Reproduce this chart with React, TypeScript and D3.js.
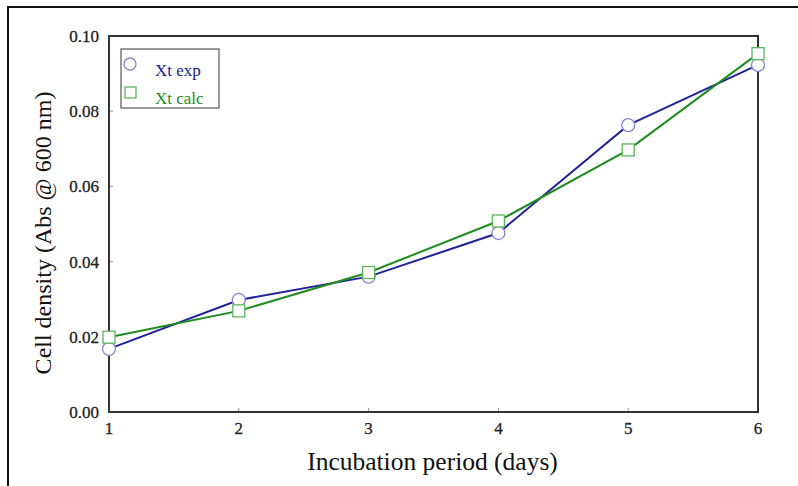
import React, { useEffect, useRef } from 'react';
import * as d3 from 'd3';

const days = [1, 2, 3, 4, 5, 6];
const xtExp = [0.0168, 0.0298, 0.0360, 0.0476, 0.0763, 0.0923];
const xtCalc = [0.0199, 0.0269, 0.0371, 0.0508, 0.0697, 0.0953];
const yTicks = [0, 0.02, 0.04, 0.06, 0.08, 0.1];

const App = () => {
  const ref = useRef<SVGSVGElement | null>(null);

  useEffect(() => {
    if (!ref.current) return;
    const svg = d3.select(ref.current);
    svg.selectAll('*').remove();

    const W = 798, H = 486;
    const left = 109, right = 758, top = 36, bottom = 412;
    const font = '"Liberation Serif", "Times New Roman", serif';

    const x = d3.scaleLinear().domain([1, 6]).range([left, right]);
    const y = d3.scaleLinear().domain([0, 0.1]).range([bottom, top]);

    svg.append('rect').attr('width', W).attr('height', H).attr('fill', '#fff');

    // outer frame
    svg.append('rect')
      .attr('x', 8).attr('y', 7).attr('width', 820).attr('height', 520)
      .attr('fill', 'none').attr('stroke', '#111').attr('stroke-width', 2);

    // inner ticks
    const g = svg.append('g');
    g.selectAll('.xt').data(days.slice(1, -1)).enter().append('line')
      .attr('x1', d => x(d)).attr('x2', d => x(d))
      .attr('y1', bottom).attr('y2', bottom - 4)
      .attr('stroke', '#999').attr('stroke-width', 1);
    g.selectAll('.yt').data(yTicks.slice(1, -1)).enter().append('line')
      .attr('x1', left).attr('x2', left + 4)
      .attr('y1', d => y(d)).attr('y2', d => y(d))
      .attr('stroke', '#999').attr('stroke-width', 1);

    // plot border
    svg.append('rect')
      .attr('x', left).attr('y', top).attr('width', right - left).attr('height', bottom - top)
      .attr('fill', 'none').attr('stroke', '#333').attr('stroke-width', 2);

    // tick labels
    svg.selectAll('.xl').data(days).enter().append('text')
      .attr('x', d => x(d)).attr('y', bottom + 22)
      .attr('text-anchor', 'middle')
      .attr('font-family', font).attr('font-size', 17)
      .attr('fill', '#222').attr('stroke', '#222').attr('stroke-width', 0.3)
      .text(d => d);
    svg.selectAll('.yl').data(yTicks).enter().append('text')
      .attr('x', left - 10).attr('y', d => y(d) + 6)
      .attr('text-anchor', 'end')
      .attr('font-family', font).attr('font-size', 17)
      .attr('fill', '#222').attr('stroke', '#222').attr('stroke-width', 0.3)
      .text(d => d3.format('.2f')(d));

    // axis titles
    svg.append('text')
      .attr('x', (left + right) / 2 - 1).attr('y', 470)
      .attr('text-anchor', 'middle')
      .attr('font-family', font).attr('font-size', 25.5).attr('fill', '#111')
      .text('Incubation period (days)');
    svg.append('text')
      .attr('transform', `translate(51,233) rotate(-90)`)
      .attr('text-anchor', 'middle')
      .attr('font-family', font).attr('font-size', 24).attr('fill', '#111')
      .text('Cell density (Abs @ 600 nm)');

    const line = d3.line<number>().x((_, i) => x(days[i])).y(d => y(d));

    svg.append('path').datum(xtExp).attr('d', line)
      .attr('fill', 'none').attr('stroke', '#22229a').attr('stroke-width', 2);
    svg.append('path').datum(xtCalc).attr('d', line)
      .attr('fill', 'none').attr('stroke', '#1f8c1f').attr('stroke-width', 2);

    svg.selectAll('.ce').data(xtExp).enter().append('circle')
      .attr('cx', (_, i) => x(days[i])).attr('cy', d => y(d)).attr('r', 6.5)
      .attr('fill', '#fff').attr('stroke', '#8585d0').attr('stroke-width', 1.3);
    svg.selectAll('.sc').data(xtCalc).enter().append('rect')
      .attr('x', (_, i) => x(days[i]) - 6).attr('y', d => y(d) - 6)
      .attr('width', 12).attr('height', 12)
      .attr('fill', '#fff').attr('stroke', '#5fb45f').attr('stroke-width', 1.3);

    // legend
    const lg = svg.append('g');
    lg.append('rect').attr('x', 121).attr('y', 49).attr('width', 98).attr('height', 59)
      .attr('fill', '#fff').attr('stroke', '#555').attr('stroke-width', 1.2);
    lg.append('circle').attr('cx', 130).attr('cy', 64).attr('r', 6)
      .attr('fill', '#fff').attr('stroke', '#8585d0').attr('stroke-width', 1.3);
    lg.append('text').attr('x', 155).attr('y', 76)
      .attr('font-family', font).attr('font-size', 17).attr('fill', '#1c1c8c')
      .text('Xt exp');
    lg.append('rect').attr('x', 125).attr('y', 87).attr('width', 11).attr('height', 11)
      .attr('fill', '#fff').attr('stroke', '#5fb45f').attr('stroke-width', 1.3);
    lg.append('text').attr('x', 155).attr('y', 104)
      .attr('font-family', font).attr('font-size', 17).attr('fill', '#1f8c1f')
      .text('Xt calc');
  }, []);

  return (
    <svg ref={ref} width={798} height={486}
      style={{ position: 'absolute', left: 0, top: 0, display: 'block' }} />
  );
};

export default App;
